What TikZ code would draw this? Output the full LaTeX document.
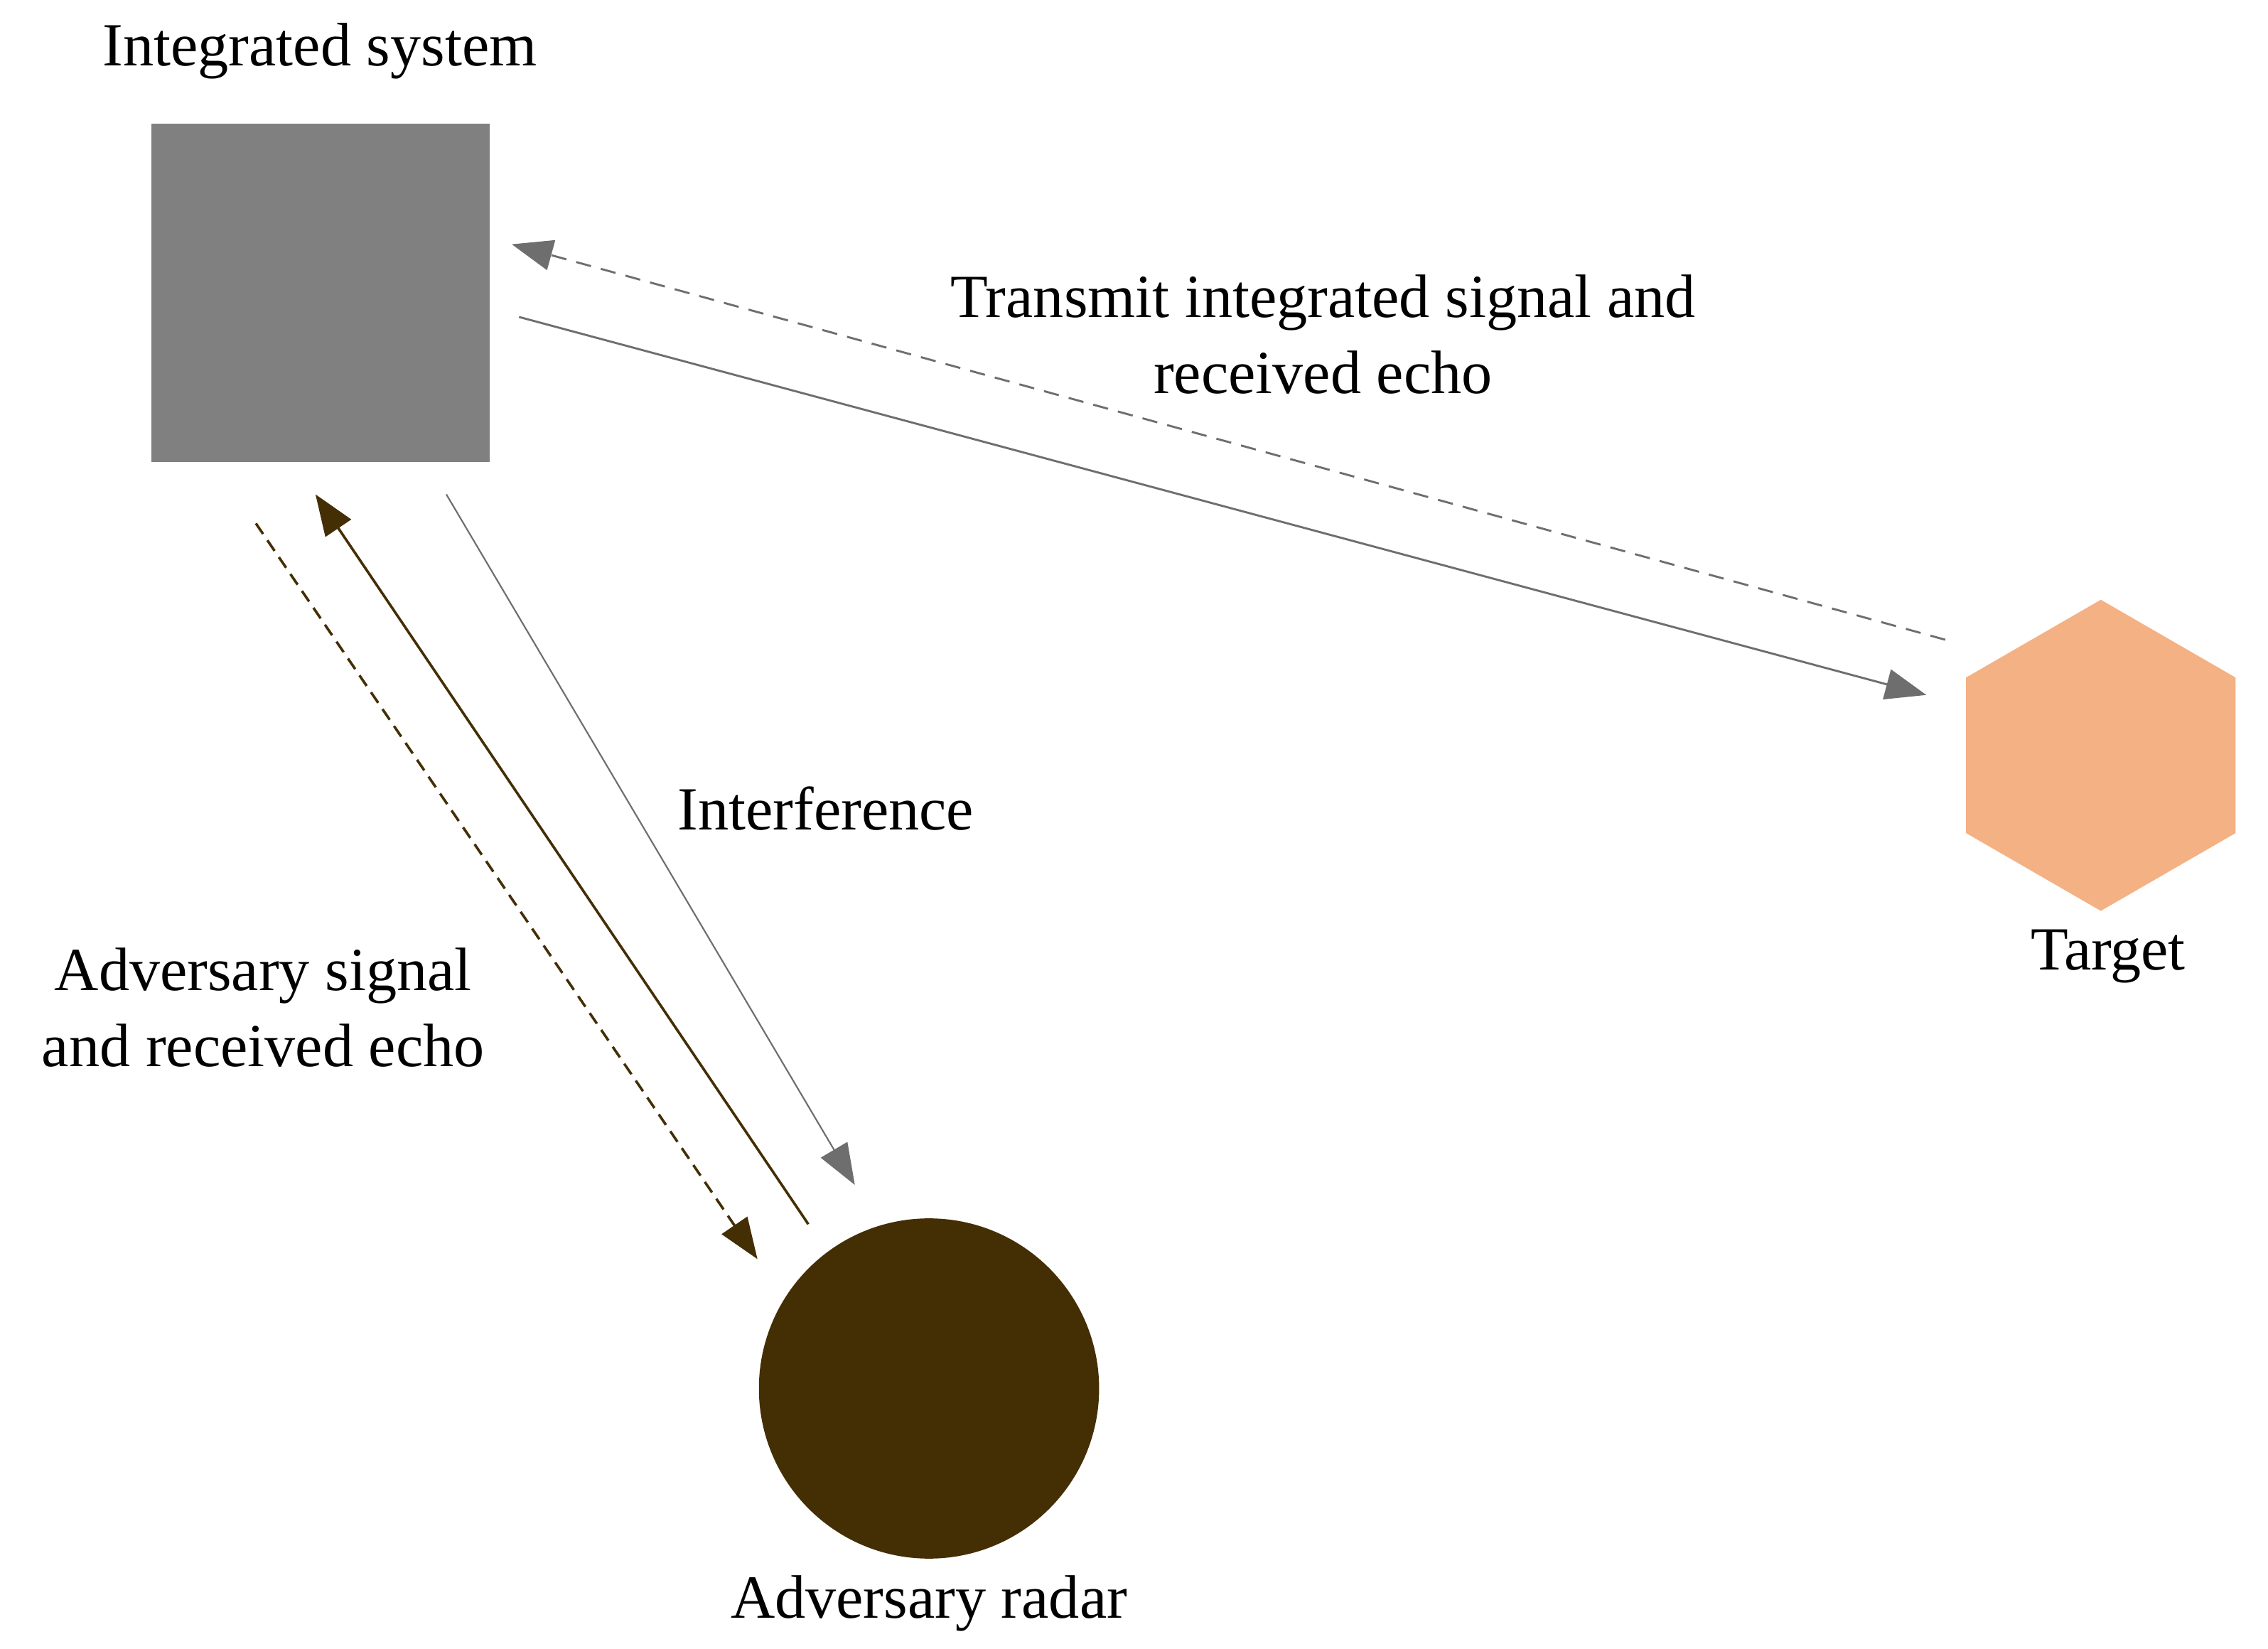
\documentclass[tikz,border=0pt]{standalone}
\usetikzlibrary{arrows.meta,shapes.geometric}
\usepackage{fontspec}
\setmainfont{Liberation Serif}
\definecolor{sq}{RGB}{128,128,128}
\definecolor{hexc}{RGB}{244,177,131}
\definecolor{brn}{RGB}{68,46,4}
\definecolor{ln}{RGB}{110,110,110}
\begin{document}
\begin{tikzpicture}[x=0.02cm,y=-0.02cm,
  lbl/.style={font=\fontsize{24}{30}\selectfont,align=center},
  tip/.style={-{Triangle[length=16pt,width=12pt]}},
  gl/.style={tip,draw=ln,line width=0.8pt,color=ln},
  bl/.style={tip,draw=brn,line width=1pt,color=brn}]
\useasboundingbox (0,0) rectangle (1560,1134);
\node[fill=sq,minimum size=233*0.02cm,inner sep=0] (sys) at (220.5,201.5) {};
\node[lbl] (syst) at (220,35) {Integrated system};
\node[regular polygon,regular polygon sides=6,shape border rotate=30,fill=hexc,minimum size=214*0.02cm,inner sep=0] (tgt) at (1445,519.5) {};
\node[lbl] (tgtt) at (1450,658) {Target};
\node[circle,fill=brn,minimum size=234*0.02cm,inner sep=0] (adv) at (639,955) {};
\node[lbl] (advt) at (639,1103) {Adversary radar};
\coordinate (a1) at (357,218); \coordinate (a2) at (1325,478);
\coordinate (b1) at (1338,440); \coordinate (b2) at (352,168);
\coordinate (c1) at (307,340); \coordinate (c2) at (588,815);
\coordinate (d1) at (556,842); \coordinate (d2) at (217,340);
\coordinate (e1) at (176,360); \coordinate (e2) at (521,866);
\draw[gl] (a1) -- (a2);
\draw[gl,dashed,dash pattern=on 6pt off 4pt] (b1) -- (b2);
\draw[gl,line width=0.6pt] (c1) -- (c2);
\draw[bl] (d1) -- (d2);
\draw[bl,dash pattern=on 5pt off 3pt] (e1) -- (e2);
\node[lbl] (t1) at (910,230) {Transmit integrated signal and\\received echo};
\node[lbl] (t2) at (568,556) {Interference};
\node[lbl] (t3) at (181,693) {Adversary signal\\and received echo};
\end{tikzpicture}
\end{document}
